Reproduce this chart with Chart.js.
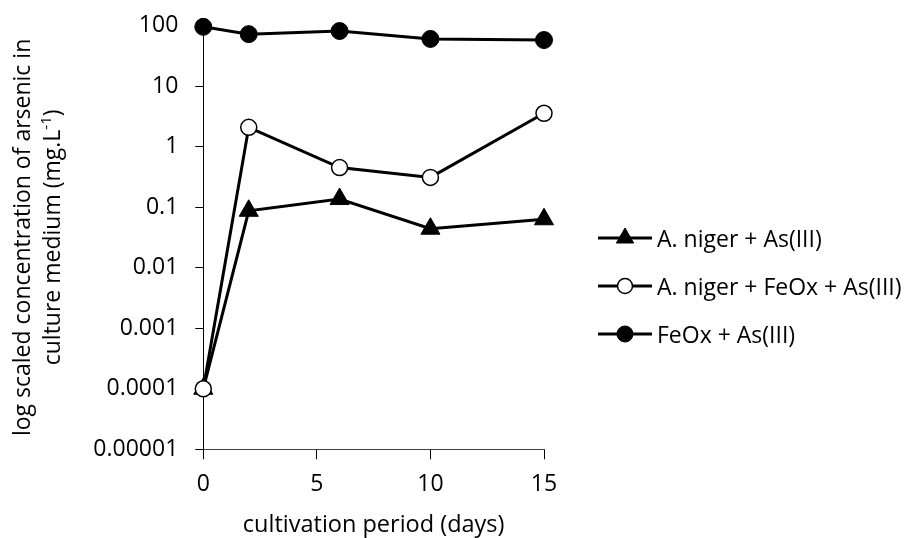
<!DOCTYPE html>
<html>
<head>
<meta charset="utf-8">
<script src="https://cdn.jsdelivr.net/npm/chart.js@4.4.1/dist/chart.umd.min.js"></script>
<style>
	body { margin: 0; background: #fff; }
	.wrap { position: relative; width: 908px; height: 538px; font-family: "Open Sans", sans-serif; }
	.legend-row { position: absolute; left: 598px; height: 30px; display: flex; align-items: center;
		white-space: nowrap; font-size: 23px; color: #000; }
	.legend-row canvas { margin-right: 3px; }
</style>
</head>
<body>
<div class="wrap">
	<canvas id="chart" width="908" height="538"></canvas>
	<div id="legend"></div>
</div>
<script>
// --- data ----------------------------------------------------------------------

const days          = [0, 2, 6, 10, 15];
const nigerAs       = [0.0001, 0.087, 0.136, 0.044, 0.063];
const nigerFeOxAs   = [0.0001, 2.08, 0.45, 0.31, 3.55];
const feOxAs        = [95, 72, 81, 60, 57.5];

const seriesNames   = ['A. niger + As(III)', 'A. niger + FeOx + As(III)', 'FeOx + As(III)'];

const xTickValues   = [0, 5, 10, 15];
const xTickLabels   = ['0', '5', '10', '15'];
const yTickValues   = [0.00001, 0.0001, 0.001, 0.01, 0.1, 1, 10, 100];
const yTickLabels   = ['0.00001', '0.0001', '0.001', '0.01', '0.1', '1', '10', '100'];

const xTitle        = 'cultivation period (days)';
const yTitleLine1   = 'log scaled concentration of arsenic in';
const yTitleLine2   = ['culture medium (mg.L', '-1', ')'];   // middle part is superscript

// --- helpers -------------------------------------------------------------------

const FONT = '"Open Sans", sans-serif';

function pts(values) { return days.map((d, i) => ({ x: d, y: values[i] })); }

const styles = [
	{ pointStyle: 'triangle', radius: 11, fill: '#000', border: '#000', bw: 1, order: 1, legendRadius: 10 },
	{ pointStyle: 'circle',   radius: 8,  fill: '#fff', border: '#000', bw: 1.5, order: 0, legendRadius: 7.5 },
	{ pointStyle: 'circle',   radius: 8.5, fill: '#000', border: '#000', bw: 1, order: 2, legendRadius: 8 }
];

function dataset(label, values, s) {
	return {
		label, data: pts(values), order: s.order, clip: false,
		borderColor: '#000', borderWidth: 3, tension: 0,
		pointStyle: s.pointStyle, pointRadius: s.radius, pointHoverRadius: s.radius,
		pointBackgroundColor: s.fill, pointBorderColor: s.border, pointBorderWidth: s.bw
	};
}

// axis titles drawn by hand, so the y title can have two lines and a superscript
const axisTitles = {
	id: 'axisTitles',
	afterDraw(chart) {
		const ctx = chart.ctx, a = chart.chartArea;
		ctx.save();
		ctx.fillStyle = '#000';
		ctx.font = '23.5px ' + FONT;
		ctx.textBaseline = 'alphabetic';
		ctx.textAlign = 'center';
		ctx.fillText(xTitle, (a.left + a.right) / 2, 532);

		ctx.translate(30, (a.top + a.bottom) / 2);
		ctx.rotate(-Math.PI / 2);
		ctx.font = '23px ' + FONT;
		ctx.fillText(yTitleLine1, 0, 0);

		ctx.textAlign = 'left';
		const w1 = ctx.measureText(yTitleLine2[0]).width;
		const w3 = ctx.measureText(yTitleLine2[2]).width;
		ctx.font = '15px ' + FONT;
		const w2 = ctx.measureText(yTitleLine2[1]).width;
		let x = -(w1 + w2 + w3) / 2;
		const base = 29.5;
		ctx.font = '23px ' + FONT;
		ctx.fillText(yTitleLine2[0], x, base);
		ctx.font = '15px ' + FONT;
		ctx.fillText(yTitleLine2[1], x + w1, base - 9);
		ctx.font = '23px ' + FONT;
		ctx.fillText(yTitleLine2[2], x + w1 + w2, base);
		ctx.restore();
	}
};

// --- chart ---------------------------------------------------------------------

const chart = new Chart(document.getElementById('chart').getContext('2d'), {
	type: 'line',
	data: {
		datasets: [
			dataset(seriesNames[0], nigerAs, styles[0]),
			dataset(seriesNames[1], nigerFeOxAs, styles[1]),
			dataset(seriesNames[2], feOxAs, styles[2])
		]
	},
	options: {
		responsive: false, animation: false, devicePixelRatio: 1,
		layout: { padding: { top: 25.5, right: 364, left: 0, bottom: 0 } },
		plugins: { legend: { display: false }, tooltip: { enabled: false } },
		scales: {
			x: {
				type: 'linear', min: 0, max: 15,
				afterBuildTicks: s => { s.ticks = xTickValues.map(v => ({ value: v })); },
				afterFit: s => { s.height = 88.7; s.paddingLeft = 0; s.paddingRight = 0; },
				ticks: { callback: (v, i) => xTickLabels[i], color: '#000', padding: 11,
					font: { family: FONT, size: 23 }, maxRotation: 0, autoSkip: false },
				grid: { drawOnChartArea: false, drawTicks: true, tickLength: 10, tickColor: '#000', tickWidth: 1 },
				border: { display: true, color: '#404040', width: 1 }
			},
			y: {
				type: 'logarithmic', min: 0.00001, max: 100,
				afterBuildTicks: s => { s.ticks = yTickValues.map(v => ({ value: v })); },
				afterFit: s => { s.width = 203.3; s.paddingTop = 0; s.paddingBottom = 0; },
				ticks: { callback: (v, i) => yTickLabels[i], color: '#000', padding: 17,
					font: { family: FONT, size: 23 }, autoSkip: false },
				grid: { drawOnChartArea: false, drawTicks: true, tickLength: 8, tickColor: '#000', tickWidth: 1 },
				border: { display: true, color: '#000', width: 1 }
			}
		}
	},
	plugins: [axisTitles]
});

// --- legend --------------------------------------------------------------------

const legendRowsY = [237.5, 286, 333.5];
const legend = document.getElementById('legend');
seriesNames.forEach((name, i) => {
	const s = styles[i];
	const row = document.createElement('div');
	row.className = 'legend-row';
	row.style.top = (legendRowsY[i] - 15) + 'px';

	const sw = document.createElement('canvas');
	sw.width = 56; sw.height = 24;
	const c = sw.getContext('2d');
	c.strokeStyle = '#000'; c.lineWidth = 3;
	c.beginPath(); c.moveTo(0, 12); c.lineTo(54, 12); c.stroke();
	c.fillStyle = s.fill; c.strokeStyle = s.border; c.lineWidth = s.bw;
	Chart.helpers.drawPoint(c, { pointStyle: s.pointStyle, radius: s.legendRadius, rotation: 0, borderWidth: s.bw }, 27, 12);

	const label = document.createElement('span');
	label.textContent = name;
	row.appendChild(sw);
	row.appendChild(label);
	legend.appendChild(row);
});
</script>
</body>
</html>
